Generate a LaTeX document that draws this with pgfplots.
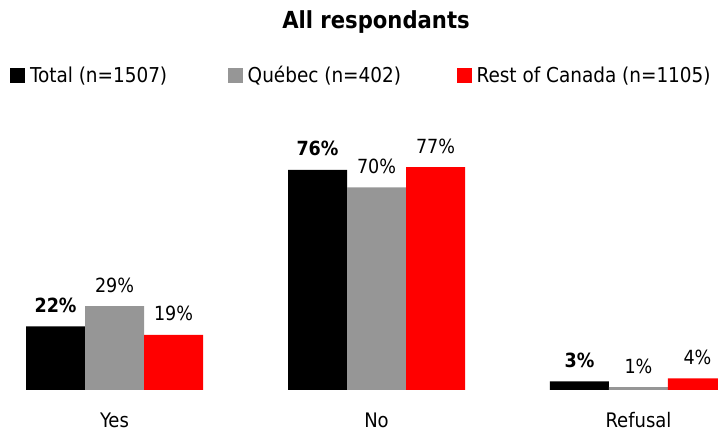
\documentclass[border=0pt]{standalone}
\usepackage{fontspec}
\setmainfont{DejaVu Sans Condensed}
\usepackage{pgfplots}
\pgfplotsset{compat=1.18}
\definecolor{qgray}{RGB}{150,150,150}
\definecolor{rred}{RGB}{255,0,0}
\begin{document}
\begin{tikzpicture}
\useasboundingbox (-26pt,-43pt) rectangle (692pt,390pt);
\clip (-26pt,-43pt) rectangle (692pt,390pt);
\begin{axis}[
  at={(0pt,0pt)}, anchor=south west,
  scale only axis, width=692pt, height=231.6pt,
  xmin=-0.338, xmax=2.3035, ymin=0, ymax=80,
  clip=false,
  /pgf/number format/assume math mode=true,
  ybar=0pt, bar width=59pt,
  axis line style={draw=none}, tick style={draw=none},
  ytick=\empty, xtick={0,1,2}, xticklabels={Yes,No,Refusal},
  xticklabel style={font=\fontsize{20}{24}\selectfont, anchor=base, yshift=-33pt},
  nodes near coords={\pgfmathprintnumber{\pgfplotspointmeta}\%},
  every node near coord/.append style={font=\fontsize{19.5}{23}\selectfont, anchor=base, yshift=14pt, inner sep=0pt},
  legend columns=3,
  legend style={at={(axis description cs:-0.0231,1.360)}, anchor=west, draw=none, fill=none,
    inner xsep=0pt, inner ysep=0pt, font=\fontsize{20.5}{24}\selectfont,
    nodes={inner sep=0pt},
    /tikz/column 1/.style={column sep=5pt},
    /tikz/column 2/.style={column sep=60.5pt},
    /tikz/column 3/.style={column sep=5pt},
    /tikz/column 4/.style={column sep=55.5pt},
    /tikz/column 5/.style={column sep=5pt}},
  legend image code/.code={\fill[#1] (0pt,-7.5pt) rectangle (15pt,7.5pt);},
]
\addplot[fill=black, draw=none, every node near coord/.append style={font=\fontsize{19.5}{23}\selectfont\bfseries}] coordinates {(0,22) (1,76) (2,3)};
\addplot[fill=qgray, draw=none] coordinates {(0,29) (1,70) (2,1)};
\addplot[fill=rred, draw=none] coordinates {(0,19) (1,77) (2,4)};
\legend{Total (n=1507), Québec (n=402), Rest of Canada (n=1105)}
\end{axis}
\node[font=\fontsize{23.5}{28}\selectfont\bfseries] at (350pt,368pt) {All respondants};
\end{tikzpicture}
\end{document}
